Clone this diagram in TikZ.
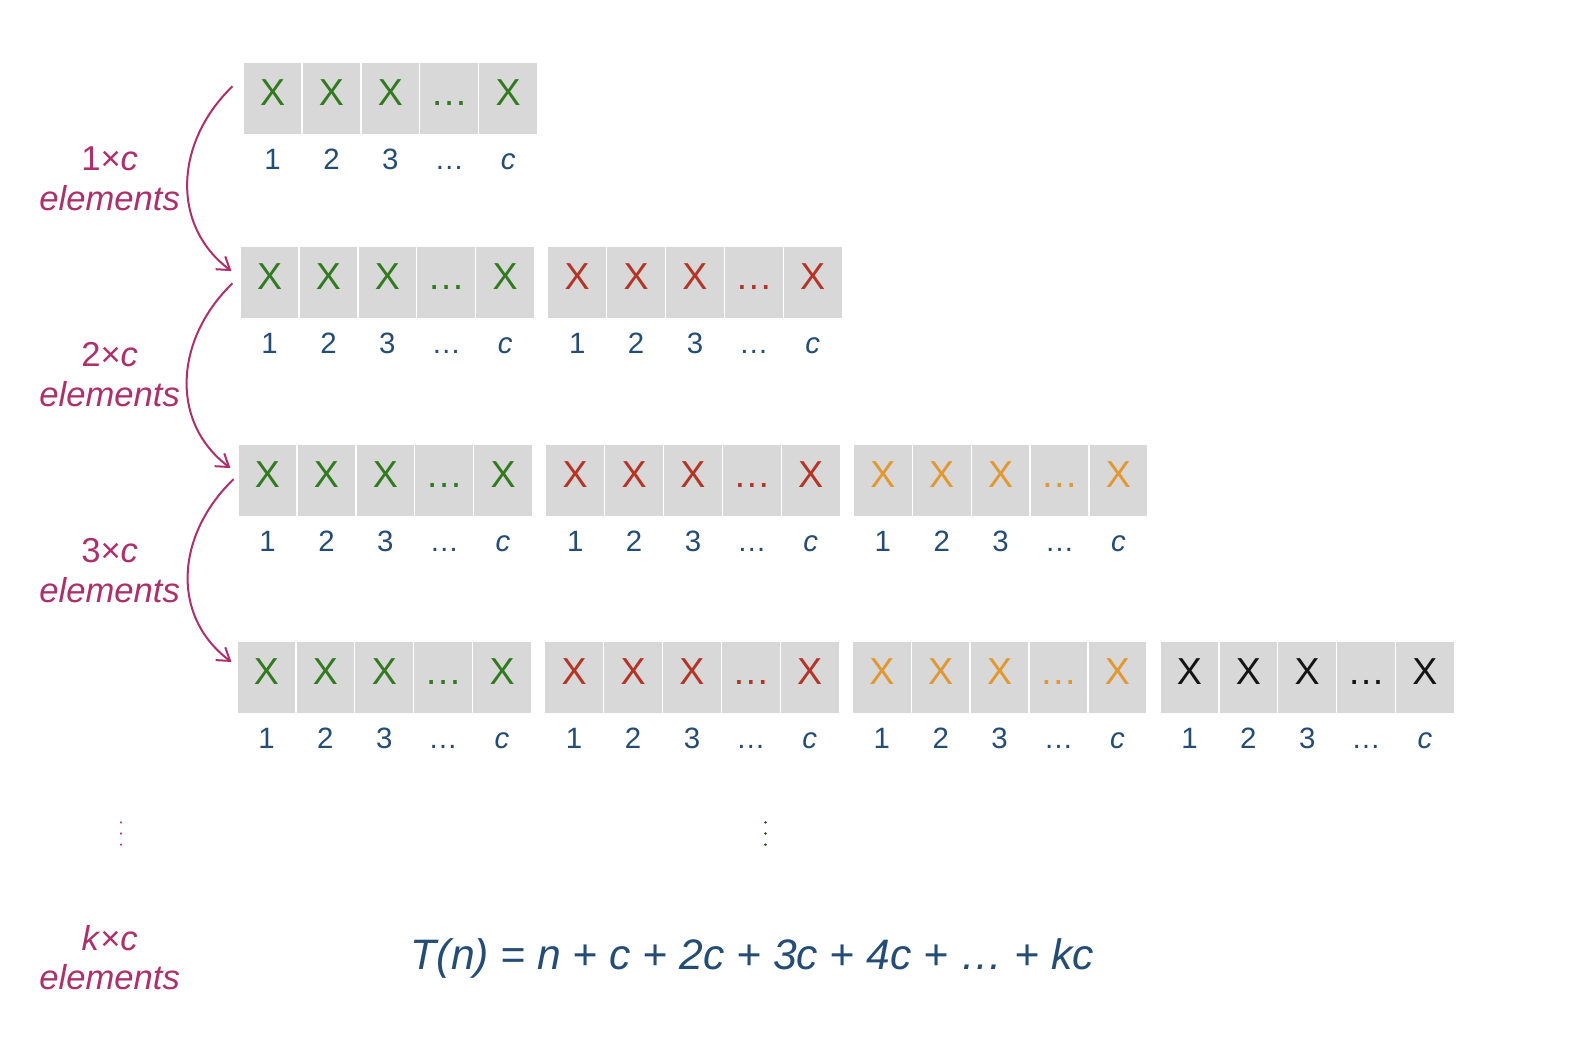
\documentclass[tikz,border=0pt]{standalone}
\usepackage{fontspec}
\setmainfont{Liberation Sans}
\usetikzlibrary{arrows.meta}
\definecolor{cellgray}{RGB}{216,216,216}
\definecolor{xg}{RGB}{50,122,32}
\definecolor{xr}{RGB}{180,52,38}
\definecolor{xo}{RGB}{226,152,48}
\definecolor{xk}{RGB}{20,20,20}
\definecolor{lblue}{RGB}{36,76,116}
\definecolor{mag}{RGB}{172,48,108}
\begin{document}
\begin{tikzpicture}[x=0.50765pt,y=-0.50765pt,
  cellbox/.style={fill=cellgray, minimum width=28.8pt, minimum height=35.5pt, inner sep=0pt, anchor=center},
  xtext/.style={anchor=base, inner sep=0pt, font=\fontsize{18.8}{20}\selectfont},
  numtext/.style={anchor=base, inner sep=0pt, text=lblue, font=\fontsize{14.7}{16}\selectfont},
  sidelab/.style={anchor=base, inner sep=0pt, text=mag, font=\fontsize{17.3}{19}\selectfont},
  curvearrow/.style={draw=mag, line width=1pt, -{Straight Barb[length=6pt,width=8pt]}},
  vdotline/.style={line width=1.3pt, dash pattern=on 0.01pt off 5.55pt, line cap=round}
]
\useasboundingbox[fill=white] (0,0) rectangle (1568,1046);

% rows of cells
\foreach \r/\x/\y/\n in {1/240/62/1, 2/237/243/2, 3/235/438/3, 4/234/632/4} {
  \foreach \b/\col in {1/xg,2/xr,3/xo,4/xk} {
    \ifnum\b>\n\relax\else
      \foreach \i/\t/\lab in {1/X/1, 2/X/2, 3/X/3, 4/…/…, 5/X/\textit{c}} {
        \pgfmathsetmacro{\cx}{\x + 28.5 + (\b-1)*303 + (\i-1)*58}
        \pgfmathsetmacro{\cy}{\y + 35}
        \pgfmathsetmacro{\ty}{\y + 42}
        \pgfmathsetmacro{\ly}{\y + 105}
        \node[cellbox] (c-\r-\b-\i) at (\cx,\cy) {};
        \node[xtext, text=\col] (t-\r-\b-\i) at (\cx,\ty) {\t};
        \node[numtext] (l-\r-\b-\i) at (\cx,\ly) {\lab};
      }
    \fi
  }
}

% side labels
\node[sidelab] (s1a) at (108,168) {1×\textit{c}};
\node[sidelab] (s1b) at (108,207) {\textit{elements}};
\node[sidelab] (s2a) at (108,361) {2×\textit{c}};
\node[sidelab] (s2b) at (108,400) {\textit{elements}};
\node[sidelab] (s3a) at (108,554) {3×\textit{c}};
\node[sidelab] (s3b) at (108,593) {\textit{elements}};
\node[sidelab] (s4a) at (108,936) {\textit{k}×\textit{c}};
\node[sidelab] (s4b) at (108,975) {\textit{elements}};

% curved arrows
\coordinate (a1s) at (229,85);
\coordinate (a1e) at (228,267);
\coordinate (a2s) at (229,279);
\coordinate (a2e) at (227,461);
\coordinate (a3s) at (230,472);
\coordinate (a3e) at (228,652);
\draw[curvearrow] (a1s) .. controls (172,140) and (168,222) .. (a1e);
\draw[curvearrow] (a2s) .. controls (172,334) and (167,416) .. (a2e);
\draw[curvearrow] (a3s) .. controls (173,527) and (168,607) .. (a3e);

% vertical dots
\draw[vdotline, draw=mag] (119,810) -- (119,833);
\draw[vdotline, draw=xg!70!black] (754,810) -- (754,833);

% formula
\node[anchor=base, inner sep=0pt, text=lblue, font=\fontsize{21.3}{24}\selectfont\itshape] (formula) at (741,955)
  {T(n) = n + c + 2c + 3c + 4c + … + kc};
\end{tikzpicture}
\end{document}
